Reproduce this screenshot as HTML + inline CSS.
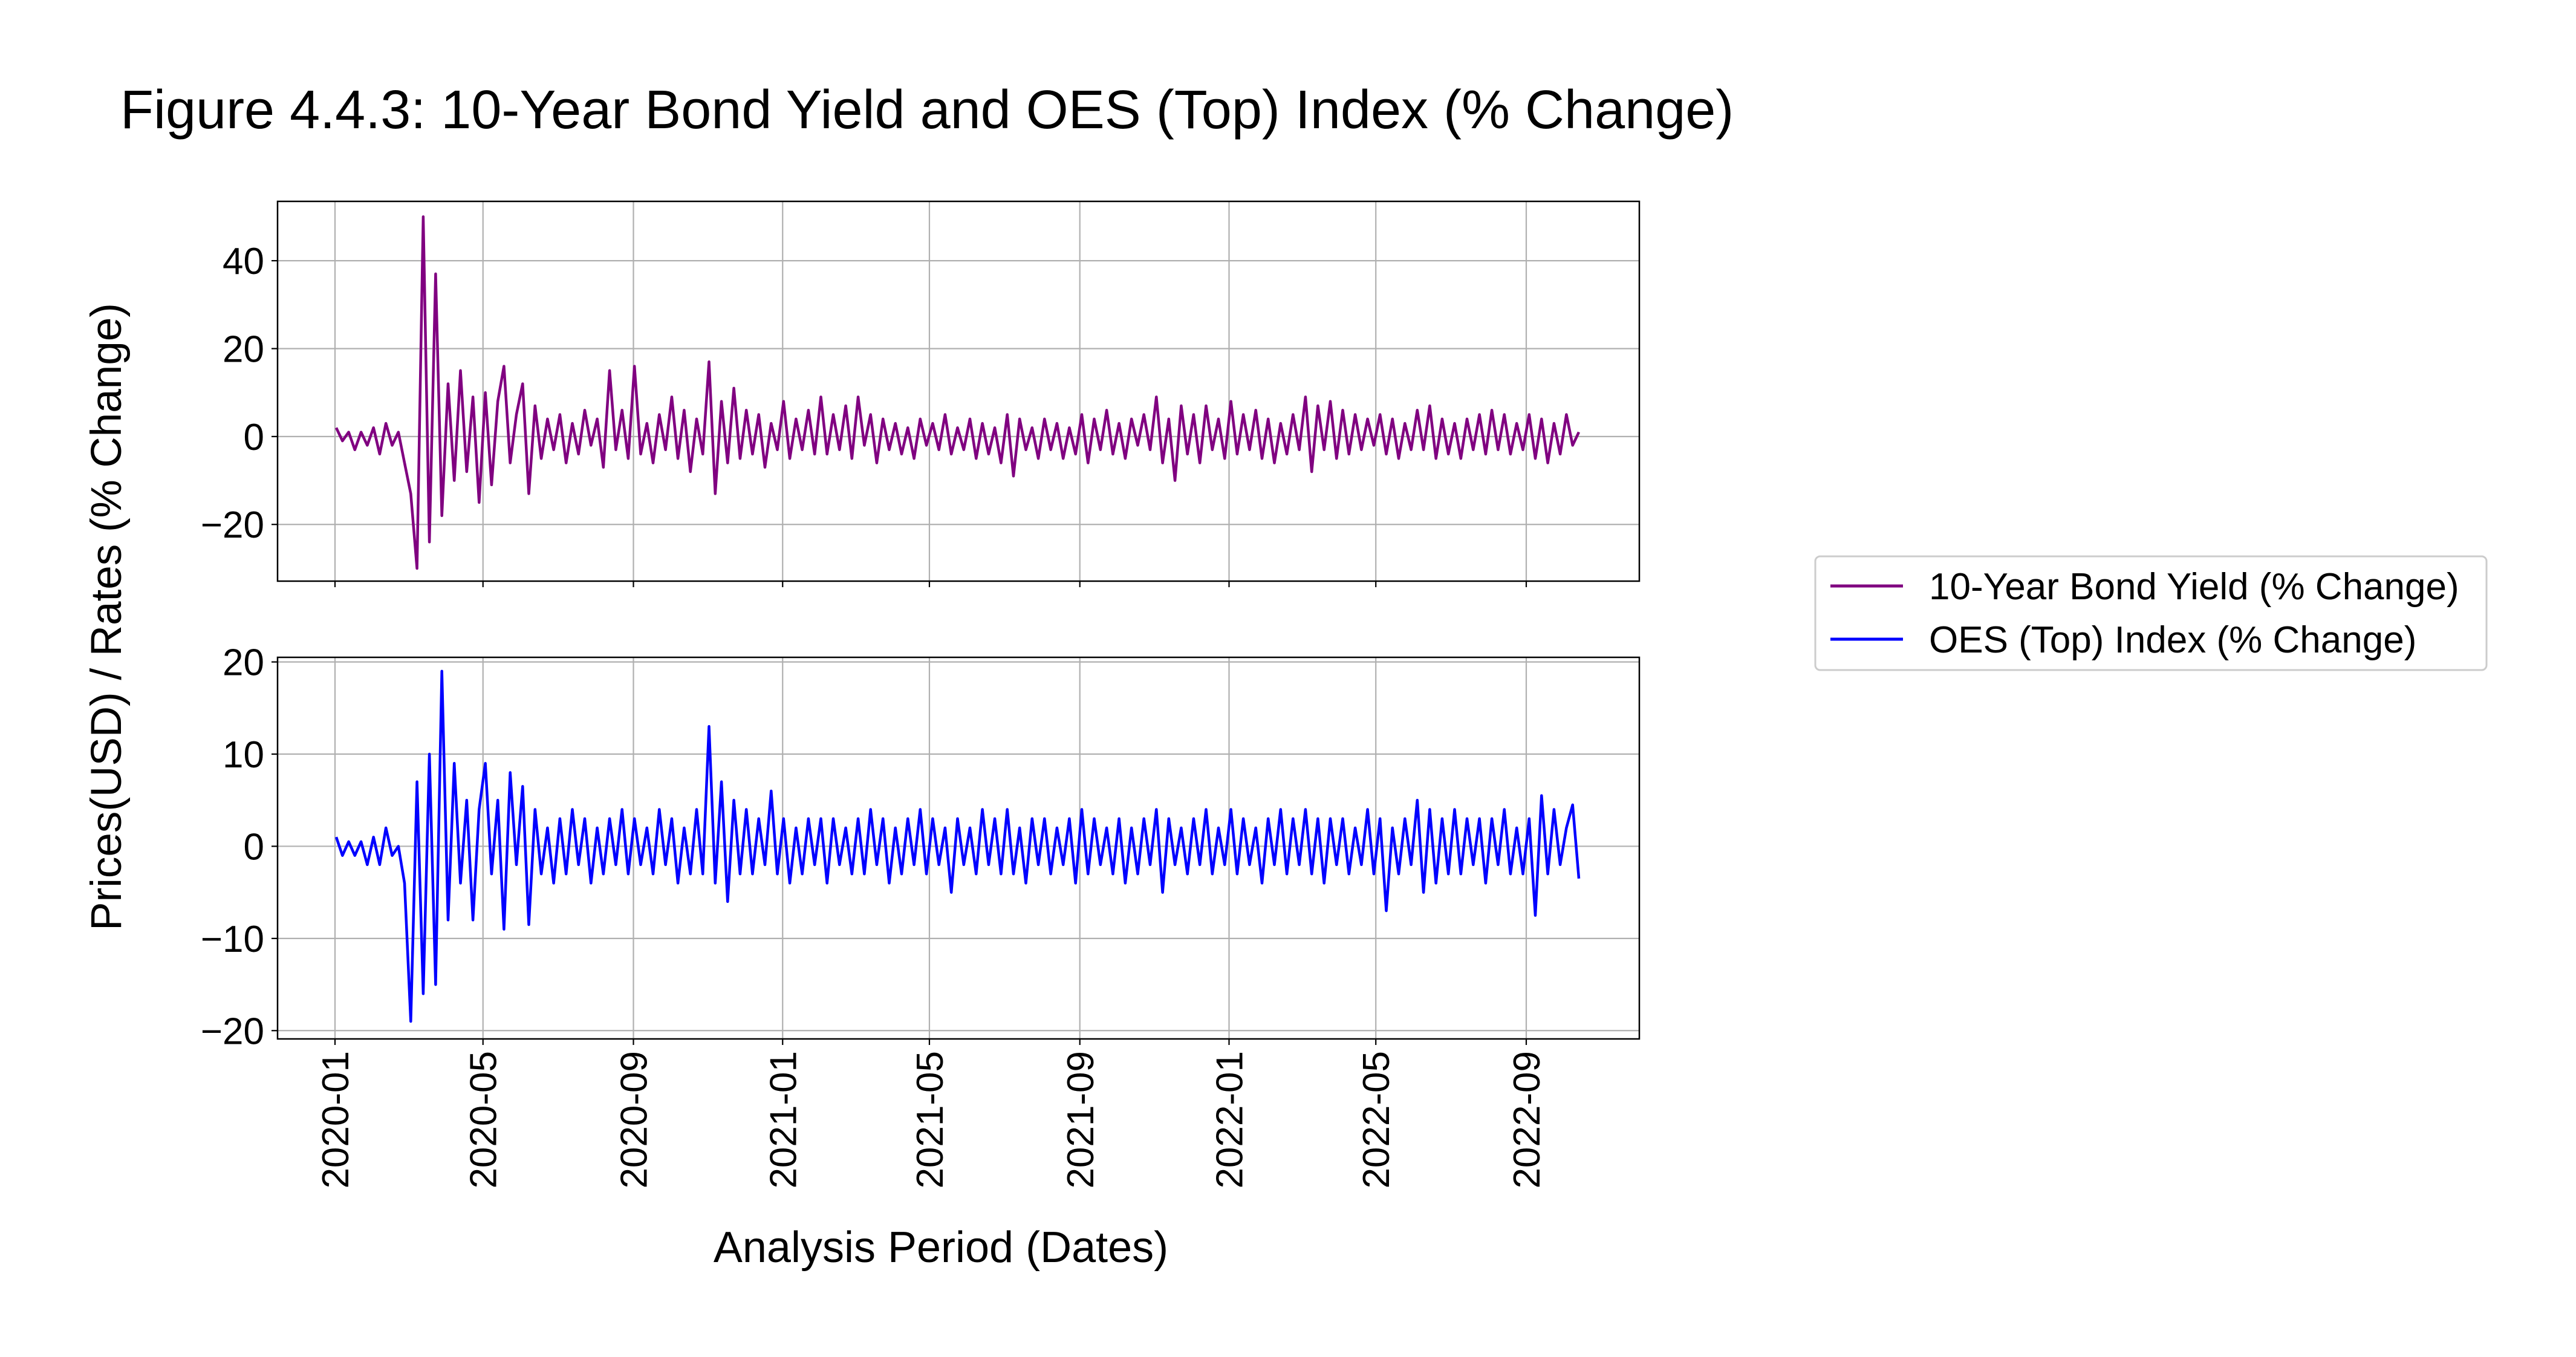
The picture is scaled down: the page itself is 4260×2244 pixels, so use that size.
<!DOCTYPE html>
<html><head><meta charset="utf-8"><style>
html,body{margin:0;padding:0;background:#fff;}
svg{display:block;font-family:"Liberation Sans","DejaVu Sans",sans-serif;}
</style></head><body>
<svg id="chart" width="4260" height="2244" viewBox="0 0 4260 2244" xmlns="http://www.w3.org/2000/svg">
<rect width="4260" height="2244" fill="#fff"/>
<text x="199" y="212" font-size="90">Figure 4.4.3: 10-Year Bond Yield and OES (Top) Index (% Change)</text>
<text transform="translate(200,1020) rotate(-90)" text-anchor="middle" font-size="71">Prices(USD) / Rates (% Change)</text>
<text x="1556" y="2087" text-anchor="middle" font-size="72">Analysis Period (Dates)</text>
<g id="plots"></g>
<g>
<rect x="3002" y="920" width="1110" height="188" rx="8" fill="#fff" stroke="#ccc" stroke-width="3"/>
<line x1="3027" y1="969" x2="3147" y2="969" stroke="#800080" stroke-width="5"/>
<text x="3190" y="991" font-size="62">10-Year Bond Yield (% Change)</text>
<line x1="3027" y1="1057" x2="3147" y2="1057" stroke="#0000ff" stroke-width="5"/>
<text x="3190" y="1079" font-size="62">OES (Top) Index (% Change)</text>
</g>
</svg>
<script>
const startDate = "2020-01-02";
const endDate = "2022-10-14";
const xTickLabels = ["2020-01","2020-05","2020-09","2021-01","2021-05","2021-09","2022-01","2022-05","2022-09"];
const yieldTicks = [-20,0,20,40];
const oesTicks = [-20,-10,0,10,20];
const yieldValues = [2,-1,1,-3,1,-2, 2,-4,3,-2,1,-6, -13,-30,50,-24,37,-18, 12,-10,15,-8,9,-15, 10,-11,8,16,-6,5, 12,-13,7,-5,4,-3, 5,-6,3,-4,6,-2, 4,-7,15,-3,6,-5, 16,-4,3,-6,5,-3, 9,-5,6,-8,4,-4, 17,-13,8,-6,11,-5, 6,-4,5,-7,3,-3,
8,-5,4,-3,6,-4, 9,-4,5,-3,7,-5, 9,-2,5,-6,4,-3, 3,-4,2,-5,4,-2, 3,-3,5,-4,2,-3, 4,-5,3,-4,2,-6, 5,-9,4,-3,2,-5, 4,-3,3,-5,2,-4, 5,-6,4,-3,6,-4, 3,-5,4,-2,5,-3, 9,-6,4,-10,7,-4, 5,-6,7,-3,4,-5,
8,-4,5,-3,6,-5, 4,-6,3,-4,5,-3, 9,-8,7,-3,8,-5, 6,-4,5,-3,4,-2, 5,-4,4,-5,3,-3, 6,-3,7,-5,4,-4, 3,-5,4,-3,5,-4, 6,-3,5,-4,3,-3, 5,-5,4,-6,3,-4, 5,-2,1];
const oesValues = [1,-1,0.5,-1,0.5,-2, 1,-2,2,-1,0,-4, -19,7,-16,10,-15,19, -8,9,-4,5,-8,4, 9,-3,5,-9,8,-2, 6.5,-8.5,4,-3,2,-4, 3,-3,4,-2,3,-4, 2,-3,3,-2,4,-3, 3,-2,2,-3,4,-2, 3,-4,2,-3,4,-3, 13,-4,7,-6,5,-3, 4,-3,3,-2,6,-3,
3,-4,2,-3,3,-2, 3,-4,3,-2,2,-3, 3,-3,4,-2,3,-4, 2,-3,3,-2,4,-3, 3,-2,2,-5,3,-2, 2,-3,4,-2,3,-3, 4,-3,2,-4,3,-2, 3,-3,2,-2,3,-4, 4,-3,3,-2,2,-3, 3,-4,2,-3,3,-2, 4,-5,3,-2,2,-3, 3,-2,4,-3,2,-2,
4,-3,3,-2,2,-4, 3,-2,4,-3,3,-2, 4,-3,3,-4,3,-2, 3,-3,2,-2,4,-3, 3,-7,2,-3,3,-2, 5,-5,4,-4,3,-3, 4,-3,3,-2,3,-4, 3,-2,4,-3,2,-3, 3,-7.5,5.5,-3,4,-2, 2,4.5,-3.5];

const NS="http://www.w3.org/2000/svg";
const L=459,R=2711;
const t0=Date.parse("2020-01-01"), t1=Date.parse("2022-09-01");
const px0=554, px1=2524;
function xScale(t){return px0+(t-t0)/(t1-t0)*(px1-px0);}
function mk(tag,attrs,parent){const e=document.createElementNS(NS,tag);for(const k in attrs)e.setAttribute(k,attrs[k]);parent.appendChild(e);return e;}
const plots=document.getElementById('plots');
function panel(name,top,bot,ymin,ymax,ticks,vals,color,showX){
  const g=mk('g',{},plots);
  
  
  const y=v=>bot-(v-ymin)/(ymax-ymin)*(bot-top);
  xTickLabels.forEach(lb=>{
    const x=xScale(Date.parse(lb+"-01"));
    mk('line',{x1:x,x2:x,y1:top,y2:bot,stroke:'#b0b0b0','stroke-width':2.2},g);
    mk('line',{x1:x,x2:x,y1:bot,y2:bot+10,stroke:'#000','stroke-width':2.2},g);
    if(showX){const t=mk('text',{transform:`translate(${x+22},${bot+20}) rotate(-90)`,'text-anchor':'end','font-size':62},g);t.textContent=lb;
      
      }
  });
  ticks.forEach(v=>{
    const yy=y(v);
    mk('line',{x1:L,x2:R,y1:yy,y2:yy,stroke:'#b0b0b0','stroke-width':2.2},g);
    mk('line',{x1:L-10,x2:L,y1:yy,y2:yy,stroke:'#000','stroke-width':2.2},g);
    const t=mk('text',{x:L-22,y:yy+22,'text-anchor':'end','font-size':62},g);
    t.textContent=(v<0?'\u2212'+Math.abs(v):v);
    
    
  });
  const s=Date.parse(startDate), e=Date.parse(endDate), n=vals.length;
  const pts=vals.map((v,i)=>xScale(s+(e-s)*i/(n-1)).toFixed(1)+','+y(v).toFixed(1)).join(' ');
  const pl=mk('polyline',{points:pts,fill:'none',stroke:color,'stroke-width':4.5,'stroke-linejoin':'round'},g);
  
  
  mk('rect',{x:L,y:top,width:R-L,height:bot-top,fill:'none',stroke:'#000','stroke-width':2.5},g);
}
panel('yield-panel',333,961,-32.9,53.5,yieldTicks,yieldValues,'#800080',false);
panel('oes-panel',1087,1718,-20.9,20.5,oesTicks,oesValues,'#0000ff',true);
</script>
</body></html>
